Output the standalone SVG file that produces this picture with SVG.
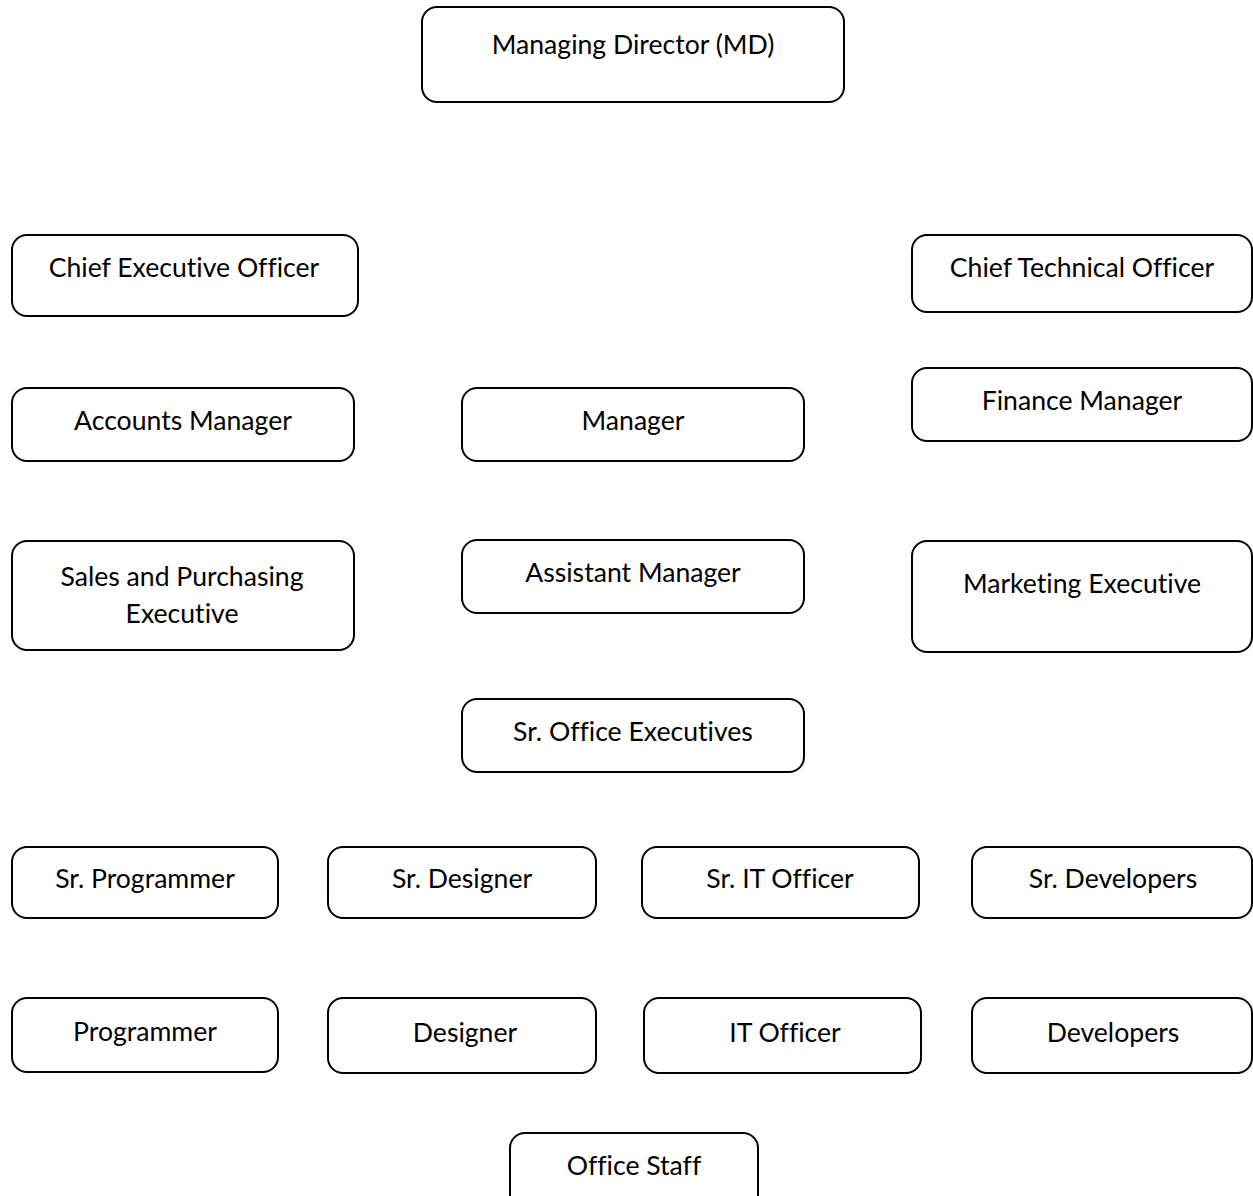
<svg xmlns="http://www.w3.org/2000/svg" width="1253" height="1196" viewBox="0 0 1253 1196">
<style>
.box{fill:#fff;stroke:#000;stroke-width:2}
.t{font-family:Lato,"Open Sans","Liberation Sans",sans-serif;font-size:26.6px;fill:#000;text-anchor:middle;font-variant-ligatures:none}
</style>
<rect width="1253" height="1196" fill="#fff"/>
<g id="connectors"></g>
<g id="md"><rect class="box" x="422" y="7" width="422" height="95" rx="15"/><text class="t" x="633" y="54">Managing Director (MD)</text></g>
<g id="ceo"><rect class="box" x="12" y="235" width="346" height="81" rx="15"/><text class="t" x="184" y="277">Chief Executive Officer</text></g>
<g id="cto"><rect class="box" x="912" y="235" width="340" height="77" rx="15"/><text class="t" x="1082" y="277">Chief Technical Officer</text></g>
<g id="accounts"><rect class="box" x="12" y="388" width="342" height="73" rx="15"/><text class="t" x="183" y="430">Accounts Manager</text></g>
<g id="manager"><rect class="box" x="462" y="388" width="342" height="73" rx="15"/><text class="t" x="633" y="430">Manager</text></g>
<g id="finance"><rect class="box" x="912" y="368" width="340" height="73" rx="15"/><text class="t" x="1082" y="410">Finance Manager</text></g>
<g id="sales"><rect class="box" x="12" y="541" width="342" height="109" rx="15"/><text class="t" x="182" y="586">Sales and Purchasing</text><text class="t" x="182" y="623">Executive</text></g>
<g id="asst"><rect class="box" x="462" y="540" width="342" height="73" rx="15"/><text class="t" x="633" y="582">Assistant Manager</text></g>
<g id="marketing"><rect class="box" x="912" y="541" width="340" height="111" rx="15"/><text class="t" x="1082" y="593">Marketing Executive</text></g>
<g id="srofficeexec"><rect class="box" x="462" y="699" width="342" height="73" rx="15"/><text class="t" x="633" y="741">Sr. Office Executives</text></g>
<g id="srprog"><rect class="box" x="12" y="847" width="266" height="71" rx="15"/><text class="t" x="145" y="888">Sr. Programmer</text></g>
<g id="srdesigner"><rect class="box" x="328" y="847" width="268" height="71" rx="15"/><text class="t" x="462" y="888">Sr. Designer</text></g>
<g id="srit"><rect class="box" x="642" y="847" width="277" height="71" rx="15"/><text class="t" x="780" y="888">Sr. IT Officer</text></g>
<g id="srdev"><rect class="box" x="972" y="847" width="280" height="71" rx="15"/><text class="t" x="1113" y="888">Sr. Developers</text></g>
<g id="prog"><rect class="box" x="12" y="998" width="266" height="74" rx="15"/><text class="t" x="145" y="1041">Programmer</text></g>
<g id="designer"><rect class="box" x="328" y="998" width="268" height="75" rx="15"/><text class="t" x="465" y="1042">Designer</text></g>
<g id="it"><rect class="box" x="644" y="998" width="277" height="75" rx="15"/><text class="t" x="785" y="1042">IT Officer</text></g>
<g id="dev"><rect class="box" x="972" y="998" width="280" height="75" rx="15"/><text class="t" x="1113" y="1042">Developers</text></g>
<g id="officestaff"><rect class="box" x="510" y="1133" width="248" height="80" rx="15"/><text class="t" x="634" y="1175">Office Staff</text></g>
</svg>
